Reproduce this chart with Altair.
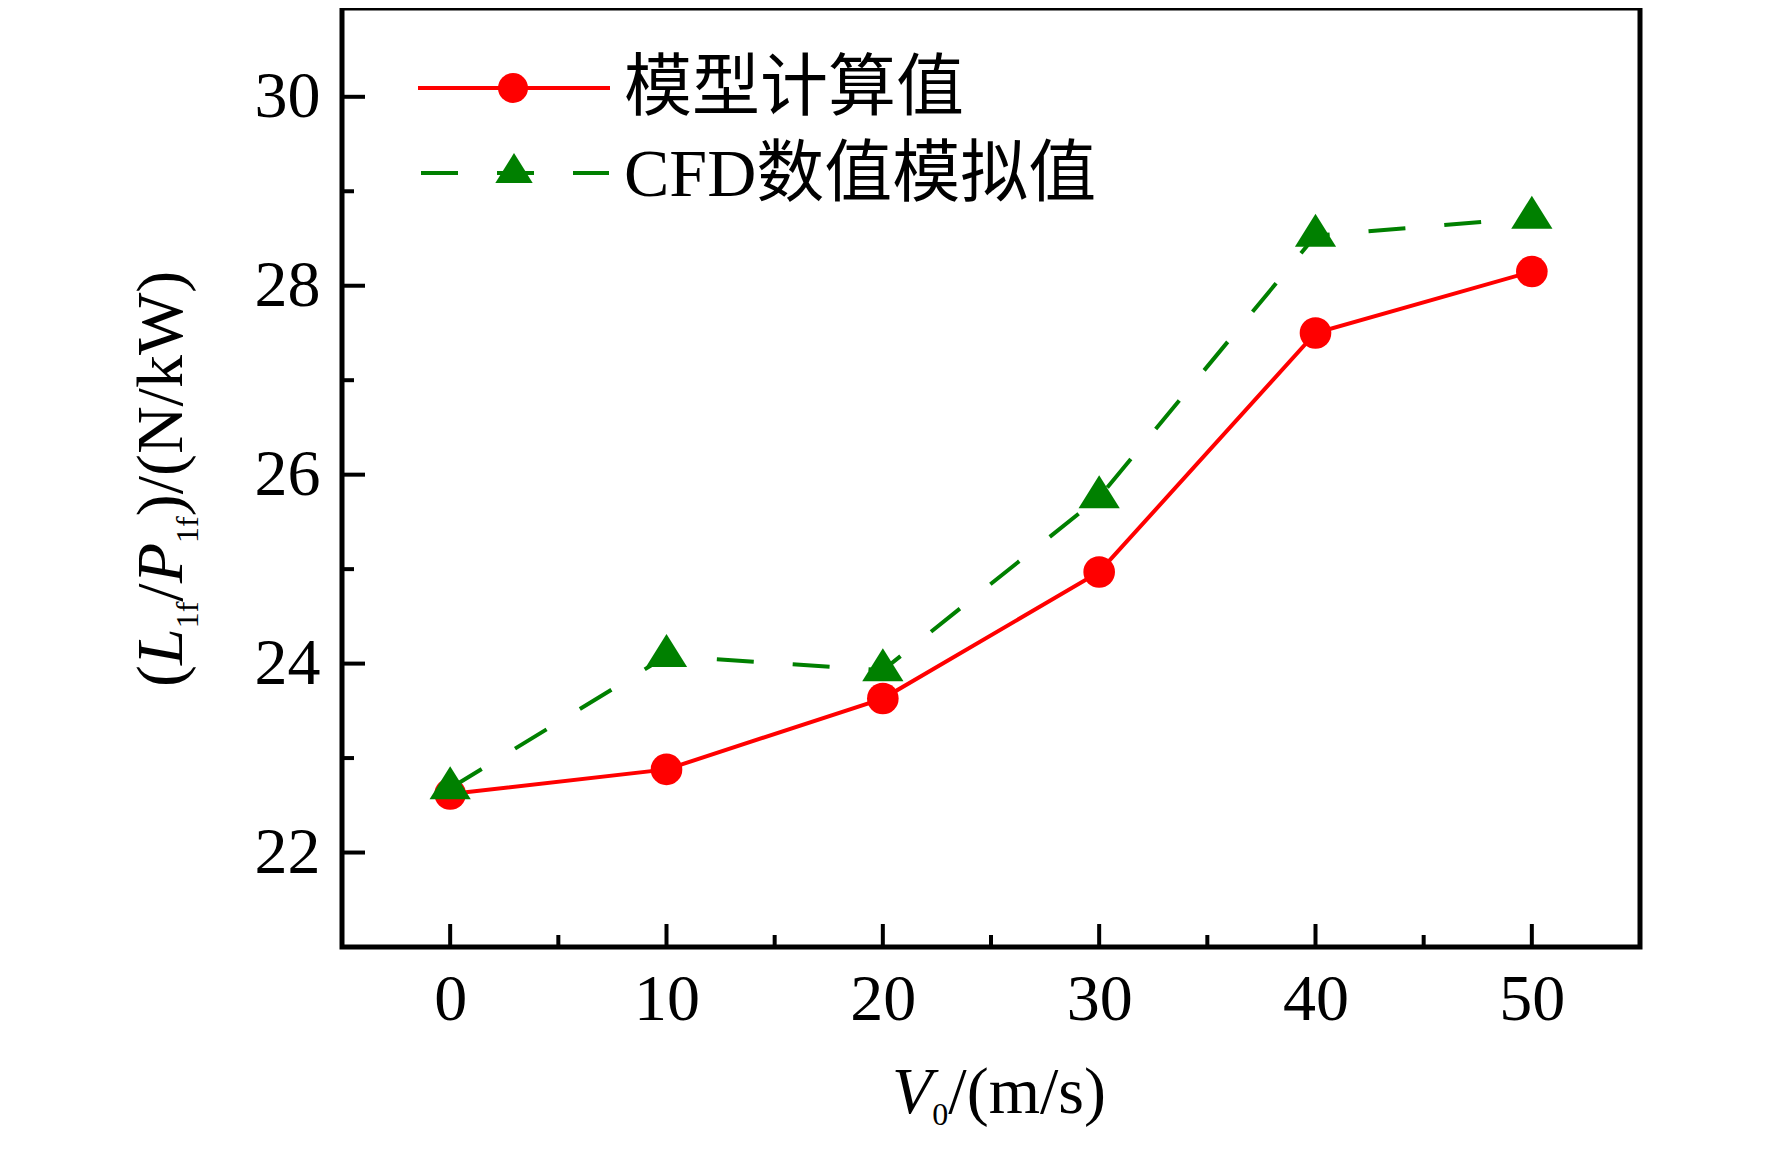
import altair as alt
import pandas as pd

# ---------------- data ----------------
V0 = [0, 10, 20, 30, 40, 50]
model_vals = [22.62, 22.88, 23.63, 24.97, 27.50, 28.15]
cfd_vals = [22.68, 24.08, 23.93, 25.76, 28.53, 28.72]
x_major = [0, 10, 20, 30, 40, 50]
x_minor = [5, 15, 25, 35, 45]
y_major = [22, 24, 26, 28, 30]
y_minor = [23, 25, 27, 29]
legend_labels = ["模型计算值", "CFD数值模拟值"]

# ---------------- layout / style ----------------
W, H = 1298, 939
FONT = "Liberation Serif"
CJK = "Liberation Serif, Noto Sans CJK SC"
FS = 66
SUB = 32
RED = "#ff0000"
GREEN = "#008000"
DASH = [37, 39]
TRI = "M0,-1.067L-1,0.533L1,0.533Z"

df = pd.DataFrame({"V": V0, "model": model_vals, "cfd": cfd_vals})
dummy = pd.DataFrame({"d": [0]})

xs = alt.Scale(domain=[-5, 55], nice=False, zero=False)
ys = alt.Scale(domain=[21, 30.94], nice=False, zero=False)

xaxis = alt.Axis(values=x_major, labelFont=FONT, labelFontSize=FS, labelColor="black",
                 labelPadding=20, ticks=False, tickSize=0, domain=False, grid=False,
                 title=None, labelFlush=False, labelOverlap=False, format="d")
yaxis = alt.Axis(values=y_major, labelFont=FONT, labelFontSize=FS, labelColor="black",
                 labelPadding=22, ticks=False, tickSize=0, domain=False, grid=False,
                 title=None, labelFlush=False, labelOverlap=False, format="d")

def X(field):
    return alt.X(field, scale=xs, axis=xaxis)

def Y(field):
    return alt.Y(field, scale=ys, axis=yaxis)

base = alt.Chart(df)

red_line = base.mark_line(color=RED, strokeWidth=4).encode(x=X("V:Q"), y=Y("model:Q"))
red_pts = base.mark_point(shape="circle", filled=True, color=RED, size=1000, opacity=1).encode(
    x=X("V:Q"), y=Y("model:Q"))
green_line = base.mark_line(color=GREEN, strokeWidth=4, strokeDash=DASH).encode(
    x=X("V:Q"), y=Y("cfd:Q"))
green_pts = base.mark_point(shape=TRI, filled=True, color=GREEN, size=1700, opacity=1).encode(
    x=X("V:Q"), y=Y("cfd:Q"))

# inward ticks
def yticks(vals, length):
    return alt.Chart(pd.DataFrame({"t": vals})).mark_rule(color="black", strokeWidth=4).encode(
        y=Y("t:Q"), x=alt.value(0), x2=alt.value(length))

def xticks(vals, length):
    return alt.Chart(pd.DataFrame({"t": vals})).mark_rule(color="black", strokeWidth=4).encode(
        x=X("t:Q"), y=alt.value(H), y2=alt.value(H - length))

ticks = [yticks(y_major, 23), yticks(y_minor, 12), xticks(x_major, 23), xticks(x_minor, 12)]

# legend
leg = [
    alt.Chart(dummy).mark_rule(color=RED, strokeWidth=4).encode(
        x=alt.value(76), x2=alt.value(268), y=alt.value(80)),
    alt.Chart(dummy).mark_point(shape="circle", filled=True, color=RED, size=900, opacity=1).encode(
        x=alt.value(171), y=alt.value(80)),
    alt.Chart(dummy).mark_text(align="left", baseline="middle", font=CJK, fontSize=68, color="black").encode(
        x=alt.value(282), y=alt.value(82), text=alt.value(legend_labels[0])),
    alt.Chart(dummy).mark_rule(color=GREEN, strokeWidth=4, strokeDash=DASH).encode(
        x=alt.value(79), x2=alt.value(267), y=alt.value(165)),
    alt.Chart(dummy).mark_point(shape=TRI, filled=True, color=GREEN, size=1400, opacity=1).encode(
        x=alt.value(172), y=alt.value(165)),
    alt.Chart(dummy).mark_text(align="left", baseline="middle", font=CJK, fontSize=68, color="black").encode(
        x=alt.value(282), y=alt.value(168), text=alt.value(legend_labels[1])),
]

# axis titles built from segments (italic letters + subscripts)
ADV = {"(": 0.333, ")": 0.333, "/": 0.278, "N": 0.722, "k": 0.5, "W": 0.944,
       "1": 0.5, "f": 0.333, "L": 0.556, "P": 0.611, "V": 0.611, "0": 0.5,
       "m": 0.778, "s": 0.389}

def seg_width(s, size):
    return sum(ADV.get(c, 0.5) for c in s) * size

def title_segments(segs, start, base_line, vertical):
    layers = []
    pos = start
    for text, size, italic, shift in segs:
        style = "italic" if italic else "normal"
        if vertical:
            enc = dict(x=alt.value(base_line + shift), y=alt.value(pos), text=alt.value(text))
            mk = alt.Chart(dummy).mark_text(align="left", baseline="alphabetic", angle=270,
                                            font=FONT, fontSize=size, color="black",
                                            fontStyle=style)
            pos -= seg_width(text, size)
        else:
            enc = dict(x=alt.value(pos), y=alt.value(base_line + shift), text=alt.value(text))
            mk = alt.Chart(dummy).mark_text(align="left", baseline="alphabetic",
                                            font=FONT, fontSize=size, color="black",
                                            fontStyle=style)
            pos += seg_width(text, size)
        layers.append(mk.encode(**enc))
    return layers

ytitle = title_segments(
    [("(", FS, False, 0), ("L", FS, True, 0), ("1f", SUB, False, 16), ("/", FS, False, 0),
     ("P", FS, True, 0), ("1f", SUB, False, 16), (")/(N/kW)", FS, False, 0)],
    start=679, base_line=-160, vertical=True)
xtitle = title_segments(
    [("V", FS, True, 0), ("0", SUB, False, 12), ("/(m/s)", FS, False, 0)],
    start=550, base_line=1105, vertical=False)

chart = alt.layer(
    red_line, red_pts, green_line, green_pts, *ticks, *leg, *ytitle, *xtitle
).properties(
    width=W, height=H,
    autosize=alt.AutoSizeParams(type="none"),
    padding={"left": 334, "top": 0, "right": 124, "bottom": 202},
    background="white",
).configure_view(stroke="black", strokeWidth=5)

chart.save("out.html", embed_options={"renderer": "svg", "actions": False})
